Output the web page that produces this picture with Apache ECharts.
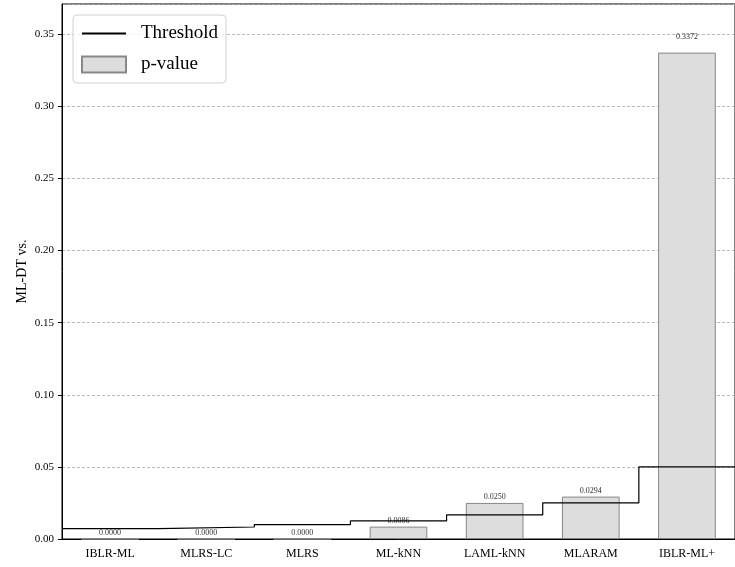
<!DOCTYPE html>
<html>
<head>
<meta charset="utf-8">
<script src="https://cdn.jsdelivr.net/npm/echarts@6/dist/echarts.min.js"></script>
<style>
  html, body { margin: 0; padding: 0; background: #fff; }
  #main { width: 735px; height: 567px; }
</style>
</head>
<body>
<div id="main"></div>
<script>
// methods compared against ML-DT
var methods = ['IBLR-ML', 'MLRS-LC', 'MLRS', 'ML-kNN', 'LAML-kNN', 'MLARAM', 'IBLR-ML+'];
// p-values (bars)
var pValues = [0.0000, 0.0000, 0.0000, 0.0086, 0.0250, 0.0294, 0.3372];
// step threshold per method
var thresholds = [0.00714, 0.00833, 0.0100, 0.0125, 0.01667, 0.0250, 0.0500];
var yTicks = [0, 0.05, 0.10, 0.15, 0.20, 0.25, 0.30, 0.35];

var chart = echarts.init(document.getElementById('main'));

var FONT = 'Liberation Serif';

// threshold as flat pieces spanning each category slot (hidden value axis)
var stepData = [];
thresholds.forEach(function (t, i) {
  stepData.push([i - 0.5, t]);
  stepData.push([i + 0.5, t]);
});

var barData = pValues.map(function (v, i) {
  var item = { value: v };
  if (i === pValues.length - 1) {
    item.label = { distance: 12 };
  }
  return item;
});

var option = {
  animation: false,
  backgroundColor: '#fff',
  textStyle: { fontFamily: FONT },
  grid: {
    left: 62, right: -7, top: 4, bottom: 28,
    show: true, borderColor: '#000', borderWidth: 1
  },
  legend: {
    orient: 'vertical',
    left: 73, top: 15,
    padding: [9, 8, 9, 8],
    itemWidth: 44, itemHeight: 16, itemGap: 12,
    backgroundColor: 'rgba(255,255,255,0.8)',
    borderColor: '#d0d0d0', borderWidth: 1, borderRadius: 4,
    textStyle: { fontFamily: FONT, fontSize: 19, color: '#000', padding: [0, 0, 0, 10] },
    data: [
      { name: 'Threshold', itemStyle: { opacity: 0 } },
      { name: 'p-value', icon: 'rect' }
    ]
  },
  xAxis: [
    {
      type: 'category',
      data: methods,
      axisLine: { lineStyle: { color: '#000', width: 1 } },
      axisTick: { alignWithLabel: true, length: 4, lineStyle: { color: '#000' } },
      axisLabel: { fontFamily: FONT, fontSize: 12, color: '#000', margin: 9 },
      splitLine: { show: false }
    },
    {
      type: 'value',
      min: -0.5, max: methods.length - 0.5,
      show: false
    }
  ],
  yAxis: {
    type: 'value',
    min: 0, max: 0.3709, interval: 0.05,
    name: 'ML-DT vs.',
    nameLocation: 'middle',
    nameRotate: 90,
    nameGap: 33,
    nameMoveOverlap: false,
    nameTextStyle: { fontFamily: FONT, fontSize: 14, color: '#000' },
    axisLine: { show: true, onZero: false, lineStyle: { color: '#000', width: 1 } },
    axisTick: { show: true, length: 4, lineStyle: { color: '#000' } },
    axisLabel: {
      fontFamily: FONT, fontSize: 11, color: '#000', margin: 8,
      showMaxLabel: false,
      formatter: function (v) {
        for (var i = 0; i < yTicks.length; i++) {
          if (Math.abs(v - yTicks[i]) < 1e-9) return v.toFixed(2);
        }
        return '';
      }
    },
    splitLine: { show: true, lineStyle: { color: '#aaa', type: [3, 2], width: 0.8 } }
  },
  series: [
    {
      name: 'p-value',
      type: 'bar',
      data: barData,
      barWidth: '60%',
      itemStyle: { color: '#dddddd', borderColor: '#888888', borderWidth: 1 },
      label: {
        show: true,
        position: 'top',
        distance: 2,
        fontFamily: FONT,
        fontSize: 8,
        color: '#333',
        formatter: function (p) { return p.value.toFixed(4); }
      },
      z: 2
    },
    {
      name: 'Threshold',
      type: 'line',
      xAxisIndex: 1,
      data: stepData,
      showSymbol: false,
      symbol: 'none',
      lineStyle: { color: '#000', width: 1.2 },
      itemStyle: { color: '#000' },
      z: 3
    }
  ]
};

chart.setOption(option);
</script>
</body>
</html>
